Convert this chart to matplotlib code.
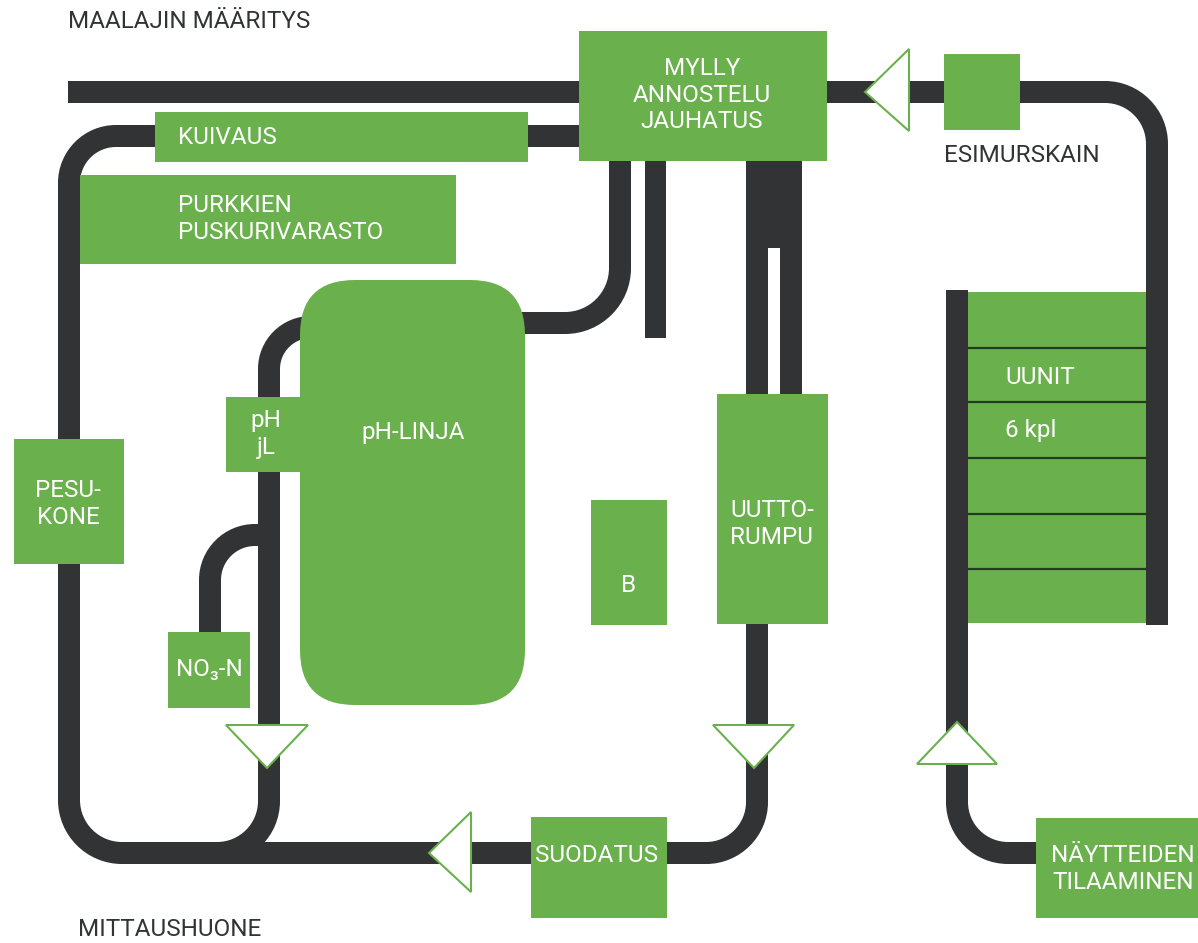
import matplotlib
matplotlib.use("Agg")
import matplotlib.pyplot as plt
from matplotlib.path import Path
from matplotlib.patches import PathPatch, Rectangle, FancyBboxPatch, Polygon

GREEN = "#6ab04c"
DARK = "#323334"
PIPE_W = 22  # px
FONT = ["Roboto", "DejaVu Sans"]

# pipes: polyline in pixel coords + corner radius per bend
pipes = [
    ([(68, 92), (580, 92)], []),
    ([(826, 92), (1157, 92), (1157, 625)], [52]),
    ([(580, 136), (69, 136), (69, 853), (532, 853)], [47, 53]),
    ([(310, 327), (269, 327), (269, 853), (200, 853)], [42, 52]),
    ([(269, 535), (210, 535), (210, 633)], [45]),
    ([(520, 323), (620, 323), (620, 160)], [55]),
    ([(757, 620), (757, 853), (667, 853)], [51]),
    ([(957, 290), (957, 853), (1037, 853)], [51]),
]

# straight dark bars (x0, y0, x1, y1)
bars = [
    (645, 160, 666, 338),
    (746, 160, 802, 248),
    (746, 248, 768, 394),
    (780, 248, 802, 394),
]

# green boxes (x0, y0, x1, y1)
boxes = {
    "mylly": (579, 31, 827, 161),
    "esimurskain": (944, 54, 1020, 130),
    "kuivaus": (155, 112, 528, 162),
    "purkkien": (80, 175, 456, 264),
    "pesukone": (14, 439, 124, 564),
    "phjl": (226, 397, 301, 472),
    "no3": (168, 632, 250, 708),
    "b": (591, 500, 667, 625),
    "uutto": (717, 394, 828, 624),
    "uunit": (968, 292, 1146, 623),
    "suodatus": (531, 817, 667, 918),
    "naytteiden": (1036, 818, 1198, 918),
}
ph_linja = (300, 280, 525, 705)
uunit_lines = [348, 402, 458, 514, 569]

# arrow triangles
triangles = [
    [(865, 92), (909, 49), (909, 131)],
    [(429, 853), (471, 812), (471, 892)],
    [(267, 768), (226, 725), (308, 725)],
    [(754, 768), (713, 725), (794, 725)],
    [(957, 722), (917, 764), (997, 764)],
]

# texts: (x, y, text, color, ha)
labels = [
    (68, 22, "MAALAJIN MÄÄRITYS", DARK, "left"),
    (78, 930, "MITTAUSHUONE", DARK, "left"),
    (944, 155, "ESIMURSKAIN", DARK, "left"),
    (702, 95, "MYLLY\nANNOSTELU\nJAUHATUS", "white", "center"),
    (178, 137, "KUIVAUS", "white", "left"),
    (178, 219, "PURKKIEN\nPUSKURIVARASTO", "white", "left"),
    (68, 504, "PESU-\nKONE", "white", "center"),
    (266, 434, "pH\njL", "white", "center"),
    (413, 433, "pH-LINJA", "white", "center"),
    (209, 670, "NO\u2083-N", "white", "center"),
    (629, 586, "B", "white", "center"),
    (772, 524, "UUTTO-\nRUMPU", "white", "center"),
    (1005, 378, "UUNIT", "white", "left"),
    (1005, 431, "6 kpl", "white", "left"),
    (597, 856, "SUODATUS", "white", "center"),
    (1123, 869, "NÄYTTEIDEN\nTILAAMINEN", "white", "center"),
]


def rounded_path(pts, radii):
    k = 0.5523
    verts = [pts[0]]
    codes = [Path.MOVETO]
    for i in range(1, len(pts) - 1):
        ax_, ay_ = pts[i - 1]
        px, py = pts[i]
        bx, by = pts[i + 1]
        r = radii[i - 1]
        l1 = ((px - ax_) ** 2 + (py - ay_) ** 2) ** 0.5
        l2 = ((bx - px) ** 2 + (by - py) ** 2) ** 0.5
        d1 = ((px - ax_) / l1, (py - ay_) / l1)
        d2 = ((bx - px) / l2, (by - py) / l2)
        s = (px - d1[0] * r, py - d1[1] * r)
        e = (px + d2[0] * r, py + d2[1] * r)
        c1 = (s[0] + d1[0] * r * k, s[1] + d1[1] * r * k)
        c2 = (e[0] - d2[0] * r * k, e[1] - d2[1] * r * k)
        verts += [s, c1, c2, e]
        codes += [Path.LINETO, Path.CURVE4, Path.CURVE4, Path.CURVE4]
    verts.append(pts[-1])
    codes.append(Path.LINETO)
    return Path(verts, codes)


fig = plt.figure(figsize=(11.98, 9.43), dpi=100)
ax = fig.add_axes([0, 0, 1, 1])
ax.set_xlim(0, 1198)
ax.set_ylim(943, 0)
ax.axis("off")

lw = PIPE_W * 72 / 100
for pts, radii in pipes:
    ax.add_patch(PathPatch(rounded_path(pts, radii), fill=False, edgecolor=DARK,
                           lw=lw, capstyle="butt", joinstyle="miter", zorder=1))

for x0, y0, x1, y1 in bars:
    ax.add_patch(Rectangle((x0, y0), x1 - x0, y1 - y0, color=DARK, lw=0, zorder=1))

for x0, y0, x1, y1 in boxes.values():
    ax.add_patch(Rectangle((x0, y0), x1 - x0, y1 - y0, color=GREEN, lw=0, zorder=2))

x0, y0, x1, y1 = ph_linja
ax.add_patch(FancyBboxPatch((x0, y0), x1 - x0, y1 - y0,
                            boxstyle="round,pad=0,rounding_size=55",
                            color=GREEN, lw=0, zorder=2))

ux0, _, ux1, _ = boxes["uunit"]
for y in uunit_lines:
    ax.plot([ux0, ux1], [y, y], color="#243a22", lw=1.6, zorder=3)

for tri in triangles:
    ax.add_patch(Polygon(tri, closed=True, facecolor="white", edgecolor=GREEN,
                         lw=1.5, zorder=3))

for x, y, s, c, ha in labels:
    ax.text(x, y, s, color=c, ha=ha, va="center", fontsize=17.5,
            family=FONT, linespacing=1.2, zorder=4)

fig.savefig("out.png", dpi=100, facecolor="white")
